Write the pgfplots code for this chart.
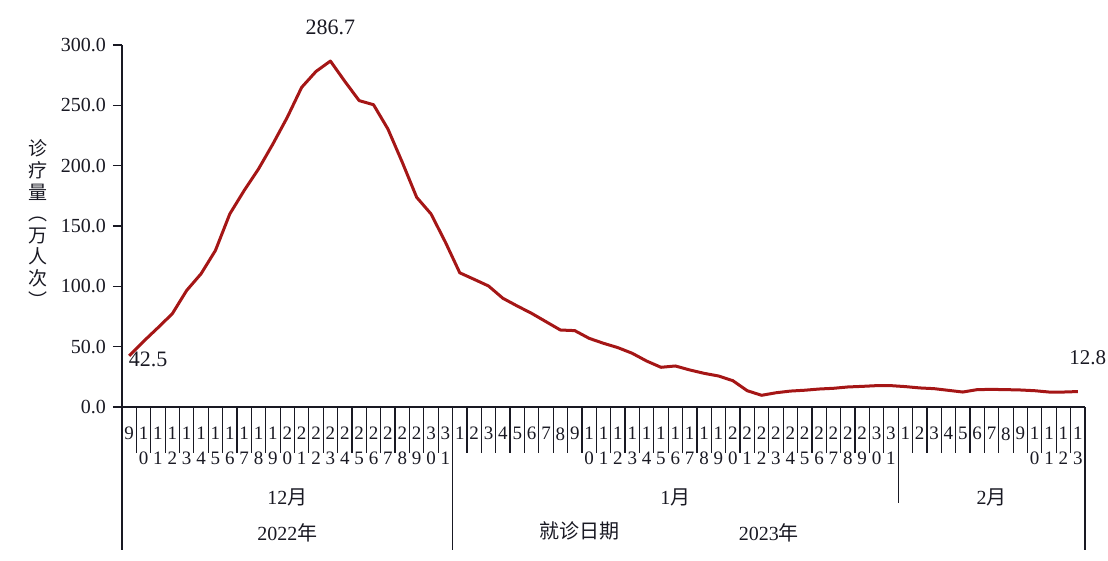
\documentclass[border=0pt]{standalone}
\usepackage{fontspec}
\setmainfont{Liberation Serif}
\newfontfamily\cjk{Noto Sans CJK SC}
\usepackage{pgfplots}
\pgfplotsset{compat=1.18}
\definecolor{linered}{RGB}{165,22,22}
\definecolor{ink}{RGB}{25,25,35}

\begin{document}
\begin{tikzpicture}[color=ink]
  \begin{axis}[
    at = {(0,0)}, anchor = south west,
    scale only axis,
    width = 481.5pt, height = 181pt,
    xmin = -0.5, xmax = 66.5,
    ymin = 0, ymax = 300,
    clip = false,
    axis x line* = bottom,
    axis y line* = left,
    x axis line style = {-, line width=0.6pt},
    y axis line style = {-, line width=1.2pt},
    tick align = outside,
    major tick length = 4.5pt,
    ytick = {0,50,...,300},
    ytick style = {line width=0.8pt, ink},
    yticklabel style = {
      font=\fontsize{10}{12}\selectfont,
      /pgf/number format/.cd, fixed, fixed zerofill, precision=1,
      assume math mode=true},
    xtick = {0,...,66},
    xtick style = {draw=none},
    xticklabels = {
      9,1\\0,1\\1,1\\2,1\\3,1\\4,1\\5,1\\6,1\\7,1\\8,1\\9,2\\0,2\\1,2\\2,2\\3,2\\4,2\\5,2\\6,2\\7,2\\8,2\\9,3\\0,3\\1,
      1,2,3,4,5,6,7,8,9,1\\0,1\\1,1\\2,1\\3,1\\4,1\\5,1\\6,1\\7,1\\8,1\\9,2\\0,2\\1,2\\2,2\\3,2\\4,2\\5,2\\6,2\\7,2\\8,2\\9,3\\0,3\\1,
      1,2,3,4,5,6,7,8,9,1\\0,1\\1,1\\2,1\\3},
    xticklabel style = {
      align=center, anchor=north, inner sep=0pt, yshift=-5.5pt,
      font=\fontsize{9.5}{12.5}\selectfont},
  ]
    % daily visits, 9 Dec 2022 - 13 Feb 2023 (x = day index)
    \addplot[linered, line width=1.5pt, line join=round] coordinates {
      (0,42.5) (1,54.4) (2,65.7) (3,77.3) (4,96.6) (5,110.4) (6,129.7)
      (7,160.0) (8,179.4) (9,197.3) (10,218.0) (11,240.1) (12,264.9)
      (13,278.1) (14,286.7) (15,269.9) (16,253.9) (17,250.5) (18,230.4)
      (19,202.8) (20,173.8) (21,160.0) (22,136.6)
      (23,111.2) (24,105.8) (25,100.3) (26,90.1) (27,83.7) (28,77.6)
      (29,70.7) (30,63.8) (31,63.3) (32,56.9) (33,52.8) (34,49.2)
      (35,44.5) (36,38.1) (37,32.9) (38,34.0) (39,30.7) (40,27.9)
      (41,25.7) (42,21.8) (43,13.5) (44,9.7) (45,11.8) (46,13.2)
      (47,13.9) (48,14.9) (49,15.5) (50,16.6) (51,17.1) (52,17.7) (53,17.7)
      (54,16.9) (55,15.8) (56,15.2) (57,13.8) (58,12.4) (59,14.4)
      (60,14.6) (61,14.4) (62,14.1) (63,13.5) (64,12.4) (65,12.4) (66,12.8)
    };

    % point labels
    \node[font=\fontsize{11}{13}\selectfont] at ([shift={(9.5pt,-2pt)}]axis cs:0,42.5) {42.5};
    \node[font=\fontsize{11}{13}\selectfont] at ([shift={(0pt,17pt)}]axis cs:14,286.7) {286.7};
    \node[font=\fontsize{10.5}{13}\selectfont] at ([shift={(5pt,17pt)}]axis cs:66,12.8) {12.8};

    % day separators
    \pgfplotsinvokeforeach{0.5,1.5,...,65.5}{
      \draw[line width=0.6pt] (axis cs:#1,0) -- ++(0pt,-23pt);
    }
    % month / year separators
    \draw[line width=1.2pt] (axis cs:-0.5,0) -- ++(0pt,-71.5pt);
    \draw[line width=0.6pt] (axis cs:22.5,0) -- ++(0pt,-71.5pt);
    \draw[line width=0.6pt] (axis cs:53.5,0) -- ++(0pt,-48pt);
    \draw[line width=0.8pt] (axis cs:66.5,0) -- ++(0pt,-71.5pt);

    % month and year labels
    \node[font=\fontsize{10}{12}\selectfont] at ([yshift=-45pt]axis cs:11,0) {12{\cjk 月}};
    \node[font=\fontsize{10}{12}\selectfont] at ([yshift=-45pt]axis cs:38,0) {1{\cjk 月}};
    \node[font=\fontsize{10}{12}\selectfont] at ([yshift=-45pt]axis cs:60,0) {2{\cjk 月}};
    \node[font=\fontsize{10}{12}\selectfont] at ([yshift=-63pt]axis cs:11,0) {2022{\cjk 年}};
    \node[font=\fontsize{10}{12}\selectfont] at ([yshift=-63pt]axis cs:44.5,0) {2023{\cjk 年}};
    \node[font=\cjk\fontsize{10}{12}\selectfont] at ([yshift=-62pt]axis cs:31.3,0) {就诊日期};

    % y axis title, characters stacked
    \node[font=\cjk\fontsize{9.5}{10.8}\selectfont, align=center]
      at ([xshift=-42pt]axis cs:-0.5,152) {诊\\疗\\量\\︵\\万\\人\\次\\︶};

    \coordinate (SW) at (rel axis cs:0,0);
    \coordinate (NE) at (rel axis cs:1,1);
  \end{axis}
  \pgfresetboundingbox
  \path[use as bounding box] ([shift={(-61pt,-76.5pt)}]SW) rectangle ([shift={(11.5pt,22.5pt)}]NE);
\end{tikzpicture}
\end{document}
